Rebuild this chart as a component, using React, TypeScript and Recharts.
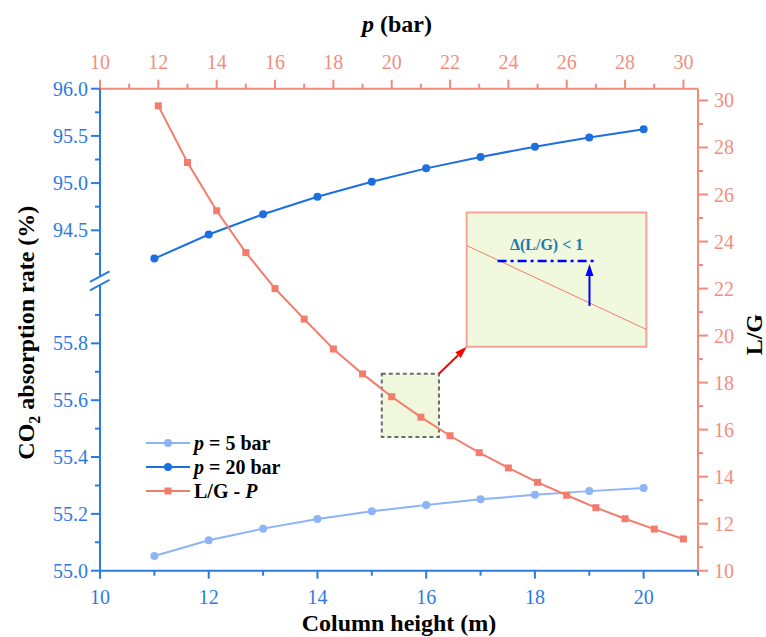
import React from 'react';
import {
  LineChart,
  Line,
  XAxis,
  YAxis,
  Legend,
  ReferenceArea,
  ReferenceLine,
  ReferenceDot,
} from 'recharts';

// ---------------- data ----------------
const columnHeights = [11, 12, 13, 14, 15, 16, 17, 18, 19, 20];
const absorptionP5 = [55.052, 55.107, 55.148, 55.182, 55.209, 55.231, 55.251, 55.267, 55.28, 55.291];
const absorptionP20 = [94.2, 94.455, 94.67, 94.855, 95.014, 95.156, 95.277, 95.386, 95.482, 95.571];
const pressures = [12, 13, 14, 15, 16, 17, 18, 19, 20, 21, 22, 23, 24, 25, 26, 27, 28, 29, 30];
const lgRatios = [29.77, 27.36, 25.31, 23.53, 22.0, 20.7, 19.43, 18.37, 17.4, 16.53, 15.74, 15.02, 14.37, 13.76, 13.21, 12.68, 12.21, 11.77, 11.35];

// tick labels / values
const heightTicks = [10, 11, 12, 13, 14, 15, 16, 17, 18, 19, 20, 21];
const pressureTicks = [10, 11, 12, 13, 14, 15, 16, 17, 18, 19, 20, 21, 22, 23, 24, 25, 26, 27, 28, 29, 30];
const lgTicks = [10, 11, 12, 13, 14, 15, 16, 17, 18, 19, 20, 21, 22, 23, 24, 25, 26, 27, 28, 29, 30];
const lowerTicks = [55.0, 55.1, 55.2, 55.3, 55.4, 55.5, 55.6, 55.7, 55.8, 55.9];
const upperTicks = [94.25, 94.5, 94.75, 95.0, 95.25, 95.5, 95.75, 96.0];
const AXIS_BREAK = 56.02;

// annotation anchors (in p / L/G units)
const focusBox = { x1: 19.66, x2: 21.62, y1: 15.69, y2: 18.38 };
const zoomBox = { x1: 22.57, x2: 28.73, y1: 19.52, y2: 25.23 };
const zoomLine = [{ x: 22.57, y: 23.83 }, { x: 28.73, y: 20.26 }];
const dashLine = [{ x: 23.63, y: 23.17 }, { x: 26.94, y: 23.17 }];
const upArrow = [{ x: 26.78, y: 21.26 }, { x: 26.78, y: 23.04 }];
const pointerArrow = [{ x: 21.62, y: 18.38 }, { x: 22.57, y: 19.52 }];
const noteAnchor = { x: 25.31, y: 23.65 };

const data5 = columnHeights.map((h, i) => ({ h, a5: absorptionP5[i] }));
const data20 = columnHeights.map((h, i) => ({ h, a20: absorptionP20[i] }));
const dataLG = pressures.map((p, i) => ({ p, lg: lgRatios[i] }));

// ---------------- styles ----------------
const FONT = "'Liberation Serif', 'Times New Roman', Times, serif";
const TXT = { fontFamily: FONT };
const BLUE_AXIS = '#2b7be4';
const DARK = '#1b6fe0';
const LIGHT = '#8cb4f7';
const SALMON = '#f47c6c';
const SALMON_AXIS = '#f28a7c';
const SALMON_TEXT = '#f28e80';

const MAJOR = 9;
const MINOR = 5;

const isEvenInt = (v: number) => Math.round(v) % 2 === 0;

const LeftTick = (props: any) => {
  const { x, y, payload } = props;
  const v: number = payload.value;
  if (Math.abs(v - AXIS_BREAK) < 1e-6) {
    return (
      <g>
        <rect x={x - 3} y={y - 4} width={6} height={8} fill="#ffffff" />
        <line x1={x - 10} y1={y + 1} x2={x + 9.5} y2={y - 9.5} stroke={BLUE_AXIS} strokeWidth={2} />
        <line x1={x - 10} y1={y + 9.5} x2={x + 9.5} y2={y - 1} stroke={BLUE_AXIS} strokeWidth={2} />
      </g>
    );
  }
  const upper = v > 90;
  const major = upper ? Math.abs(v * 2 - Math.round(v * 2)) < 1e-6 : Math.round(v * 10) % 2 === 0;
  return (
    <g>
      <line x1={x - (major ? MAJOR : MINOR)} y1={y} x2={x} y2={y} stroke={BLUE_AXIS} strokeWidth={2} />
      {major && (
        <text x={x - 12} y={y} dy="0.35em" textAnchor="end" style={TXT} fontSize={20} fill={BLUE_AXIS}>
          {v.toFixed(1)}
        </text>
      )}
    </g>
  );
};

const BottomTick = (props: any) => {
  const { x, y, payload } = props;
  const v: number = payload.value;
  const major = isEvenInt(v);
  return (
    <g>
      <line x1={x} y1={y} x2={x} y2={y + (major ? MAJOR - 1 : MINOR)} stroke={BLUE_AXIS} strokeWidth={2} />
      {major && (
        <text x={x} y={y + 26} dy="0.35em" textAnchor="middle" style={TXT} fontSize={20} fill={BLUE_AXIS}>
          {v}
        </text>
      )}
    </g>
  );
};

const TopTick = (props: any) => {
  const { x, y, payload } = props;
  const v: number = payload.value;
  const major = isEvenInt(v);
  return (
    <g>
      <line x1={x} y1={y - (major ? MAJOR : MINOR)} x2={x} y2={y} stroke={SALMON_AXIS} strokeWidth={2} />
      {major && (
        <text x={x} y={y - 27} dy="0.35em" textAnchor="middle" style={TXT} fontSize={20} fill={SALMON_TEXT}>
          {v}
        </text>
      )}
    </g>
  );
};

const RightTick = (props: any) => {
  const { x, y, payload } = props;
  const v: number = payload.value;
  const major = isEvenInt(v);
  return (
    <g>
      <line x1={x} y1={y} x2={x + (major ? MAJOR + 1 : MINOR)} y2={y} stroke={SALMON_AXIS} strokeWidth={2} />
      {major && (
        <text x={x + 16} y={y} dy="0.35em" textAnchor="start" style={TXT} fontSize={20} fill={SALMON_TEXT}>
          {v}
        </text>
      )}
    </g>
  );
};

const arrowShape = (color: string) => (props: any) => {
  const { x1, y1, x2, y2 } = props;
  const ang = Math.atan2(y2 - y1, x2 - x1);
  const L = 12;
  const W = 4;
  const c = Math.cos(ang);
  const s = Math.sin(ang);
  const bx = x2 - L * c;
  const by = y2 - L * s;
  return (
    <g>
      <line x1={x1} y1={y1} x2={bx} y2={by} stroke={color} strokeWidth={2} />
      <polygon
        points={`${x2},${y2} ${bx + W * s},${by - W * c} ${bx - W * s},${by + W * c}`}
        fill={color}
      />
    </g>
  );
};

const noteShape = (props: any) => (
  <text
    x={props.cx}
    y={props.cy}
    textAnchor="middle"
    style={TXT}
    fontWeight="bold"
    fontSize={16}
    fill="#1f78b4"
  >
    Δ(L/G) &lt; 1
  </text>
);

const squareDot = (props: any) => (
  <rect
    key={`sq-${props.index}`}
    x={props.cx - 3.5}
    y={props.cy - 3.5}
    width={7}
    height={7}
    fill={SALMON}
  />
);

const legendRows = [
  { key: 'p5', color: LIGHT, marker: 'circle', italic: 'p', rest: ' = 5 bar', pre: '' },
  { key: 'p20', color: DARK, marker: 'circle', italic: 'p', rest: ' = 20 bar', pre: '' },
  { key: 'lg', color: SALMON, marker: 'square', italic: 'P', rest: '', pre: 'L/G - ' },
];

const renderLegend = () => (
  <svg width={170} height={80} style={{ display: 'block' }}>
    {legendRows.map((row, i) => {
      const y = 15 + i * 24;
      return (
        <g key={row.key}>
          <line x1={6} x2={50} y1={y} y2={y} stroke={row.color} strokeWidth={2} />
          {row.marker === 'circle' ? (
            <circle cx={28} cy={y} r={4} fill={row.color} />
          ) : (
            <rect x={24.5} y={y - 3.5} width={7} height={7} fill={row.color} />
          )}
          <text x={54} y={y} dy="0.35em" style={TXT} fontWeight="bold" fontSize={20} fill="#000">
            {row.pre}
            <tspan fontStyle="italic">{row.italic}</tspan>
            {row.rest}
          </text>
        </g>
      );
    })}
  </svg>
);

const bottomTitle = (props: any) => {
  const vb = props.viewBox;
  return (
    <text x={vb.x + vb.width / 2} y={vb.y + 60} textAnchor="middle" style={TXT} fontWeight="bold" fontSize={24} fill="#000">
      Column height (m)
    </text>
  );
};

const topTitle = (props: any) => {
  const vb = props.viewBox;
  return (
    <text x={vb.x + vb.width / 2 - 2} y={32} textAnchor="middle" style={TXT} fontWeight="bold" fontSize={24} fill="#000">
      <tspan fontStyle="italic">p</tspan> (bar)
    </text>
  );
};

const leftTitle = (props: any) => {
  const vb = props.viewBox;
  const cx = 34;
  const cy = vb.y + vb.height / 2 + 3;
  return (
    <text
      x={cx}
      y={cy}
      transform={`rotate(-90 ${cx} ${cy})`}
      textAnchor="middle"
      style={TXT}
      fontWeight="bold"
      fontSize={24}
      fill="#000"
    >
      CO<tspan fontSize={16} dy={6}>2</tspan>
      <tspan dy={-6}> absorption rate (%)</tspan>
    </text>
  );
};

const rightTitle = (props: any) => {
  const vb = props.viewBox;
  const cx = 762;
  const cy = vb.y + vb.height / 2 + 5;
  return (
    <text
      x={cx}
      y={cy}
      transform={`rotate(-90 ${cx} ${cy})`}
      textAnchor="middle"
      style={TXT}
      fontWeight="bold"
      fontSize={24}
      fill="#000"
    >
      L/G
    </text>
  );
};

export default function App() {
  return (
    <div style={{ position: 'absolute', left: 0, top: 0, background: '#fff', fontFamily: FONT }}>
      <LineChart width={766} height={637} margin={{ top: 0, right: 0, bottom: 0, left: 0 }} style={{ fontFamily: FONT }}>
        <XAxis
          xAxisId="h"
          dataKey="h"
          type="number"
          domain={[10, 21]}
          ticks={heightTicks}
          interval={0}
          orientation="bottom"
          height={66.3}
          tickSize={0}
          tickMargin={0}
          tick={<BottomTick />}
          axisLine={{ stroke: BLUE_AXIS, strokeWidth: 2 }}
          label={{ content: bottomTitle }}
        />
        <XAxis
          xAxisId="p"
          dataKey="p"
          type="number"
          domain={[10, 30.5]}
          ticks={pressureTicks}
          interval={0}
          orientation="top"
          height={88.7}
          tickSize={0}
          tickMargin={0}
          tick={<TopTick />}
          axisLine={{ stroke: SALMON_AXIS, strokeWidth: 2 }}
          label={{ content: topTitle }}
        />
        <YAxis
          yAxisId="low"
          type="number"
          domain={[55, 56.696]}
          ticks={[...lowerTicks, AXIS_BREAK]}
          interval={0}
          orientation="left"
          width={100}
          tickSize={0}
          tickMargin={0}
          tick={<LeftTick />}
          axisLine={{ stroke: BLUE_AXIS, strokeWidth: 2 }}
          label={{ content: leftTitle }}
        />
        <YAxis
          yAxisId="up"
          type="number"
          domain={[90.894, 96]}
          ticks={upperTicks}
          interval={0}
          orientation="left"
          mirror
          width={1}
          tickSize={0}
          tickMargin={0}
          tick={<LeftTick />}
          axisLine={false}
        />
        <YAxis
          yAxisId="lg"
          type="number"
          domain={[10, 30.5]}
          ticks={lgTicks}
          interval={0}
          orientation="right"
          width={68}
          tickSize={0}
          tickMargin={0}
          tick={<RightTick />}
          axisLine={{ stroke: SALMON_AXIS, strokeWidth: 2 }}
          label={{ content: rightTitle }}
        />

        <ReferenceArea
          xAxisId="p"
          yAxisId="lg"
          x1={focusBox.x1}
          x2={focusBox.x2}
          y1={focusBox.y1}
          y2={focusBox.y2}
          fill="#eff8dc"
          fillOpacity={1}
          stroke="#6b6b6b"
          strokeWidth={2}
          strokeDasharray="4 3"
        />
        <ReferenceArea
          xAxisId="p"
          yAxisId="lg"
          x1={zoomBox.x1}
          x2={zoomBox.x2}
          y1={zoomBox.y1}
          y2={zoomBox.y2}
          fill="#f0f9dd"
          fillOpacity={1}
          stroke="#f5a396"
          strokeWidth={2}
        />
        <ReferenceLine xAxisId="p" yAxisId="lg" segment={zoomLine} stroke={SALMON} strokeWidth={1} />
        <ReferenceLine
          xAxisId="p"
          yAxisId="lg"
          segment={dashLine}
          stroke="#0000ff"
          strokeWidth={2.5}
          strokeDasharray="9 4 3 4"
        />
        <ReferenceLine xAxisId="p" yAxisId="lg" segment={upArrow} shape={arrowShape('#0000ff')} />
        <ReferenceLine xAxisId="p" yAxisId="lg" segment={pointerArrow} shape={arrowShape('#ff0000')} />
        <ReferenceDot xAxisId="p" yAxisId="lg" x={noteAnchor.x} y={noteAnchor.y} r={0} shape={noteShape} />

        <Line
          xAxisId="h"
          yAxisId="low"
          data={data5}
          dataKey="a5"
          name="p = 5 bar"
          stroke={LIGHT}
          strokeWidth={2}
          dot={{ r: 4, fill: LIGHT, stroke: LIGHT, strokeWidth: 0 }}
          activeDot={false}
          isAnimationActive={false}
        />
        <Line
          xAxisId="h"
          yAxisId="up"
          data={data20}
          dataKey="a20"
          name="p = 20 bar"
          stroke={DARK}
          strokeWidth={2}
          dot={{ r: 4, fill: DARK, stroke: DARK, strokeWidth: 0 }}
          activeDot={false}
          isAnimationActive={false}
        />
        <Line
          xAxisId="p"
          yAxisId="lg"
          data={dataLG}
          dataKey="lg"
          name="L/G - P"
          stroke={SALMON}
          strokeWidth={2}
          dot={squareDot}
          activeDot={false}
          isAnimationActive={false}
        />
        <Legend
          layout="vertical"
          align="center"
          verticalAlign="middle"
          content={renderLegend}
          wrapperStyle={{ left: 140, top: 428, width: 170, height: 80 }}
        />
      </LineChart>
    </div>
  );
}
